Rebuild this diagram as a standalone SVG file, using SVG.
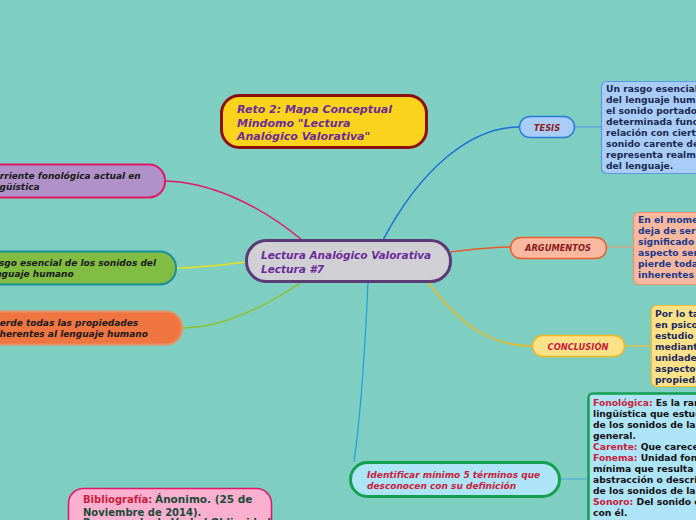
<svg xmlns="http://www.w3.org/2000/svg" width="696" height="520" viewBox="0 0 696 520">
<style>
text{font-family:"DejaVu Sans","Verdana",sans-serif;font-weight:bold}
.it{font-style:italic}
.c{fill:none}
.lbl{font-size:8.3px;font-style:italic;text-anchor:middle}
.box{font-size:9.2px}
</style>
<rect width="696" height="520" fill="#7ecec1"/>
<g id="connectors" class="c">
<path d="M383,240 C420,170 470,127 519,127" stroke="#1a6ed8" stroke-width="1.5"/>
<path d="M574,127 H601" stroke="#5a9ae0" stroke-width="1.2"/>
<path d="M451,252 C475,249 490,247 510,247" stroke="#e85a2a" stroke-width="1.5"/>
<path d="M606,247 H633" stroke="#e0a080" stroke-width="1.2"/>
<path d="M428,282 C460,325 490,346 532,346" stroke="#f0b820" stroke-width="1.5"/>
<path d="M625,346 H651" stroke="#f0c030" stroke-width="1.2"/>
<path d="M368,282 C365,350 360,420 354,462" stroke="#1aa0e0" stroke-width="1.2"/>
<path d="M560,479 H588" stroke="#4ab0d8" stroke-width="1.2"/>
<path d="M302,240 C260,205 210,182 165,181" stroke="#e0186a" stroke-width="1.5"/>
<path d="M246,262 C220,265 200,268 176,268" stroke="#e8e020" stroke-width="1.5"/>
<path d="M302,282 C260,310 220,328 182,328" stroke="#90c020" stroke-width="1.5"/>
</g>
<g id="title">
<rect x="221.5" y="95.5" width="205" height="52" rx="18" fill="#f9d31c" stroke="#8c0f0f" stroke-width="3"/>
<text class="it" font-size="11" fill="#6b2a9a"><tspan x="237" y="113">Reto 2: Mapa Conceptual</tspan><tspan x="237" y="127">Mindomo "Lectura</tspan><tspan x="237" y="140">Analógico Valorativa"</tspan></text>
</g>
<g id="central">
<rect x="246.5" y="240.5" width="204" height="41" rx="20" fill="#d0d0d4" stroke="#5b3a78" stroke-width="3"/>
<text class="it" font-size="10.5" fill="#6b2a9a"><tspan x="261" y="259">Lectura Analógico Valorativa</tspan><tspan x="261" y="273">Lectura #7</tspan></text>
</g>
<g id="left1">
<rect x="-40" y="164.5" width="205" height="33" rx="16" fill="#b192c8" stroke="#e0186a" stroke-width="2"/>
<text class="it" font-size="9" fill="#1a1a1a"><tspan x="-13" y="179">Corriente fonológica actual en</tspan><tspan x="-13" y="190">lingüística</tspan></text>
</g>
<g id="left2">
<rect x="-40" y="251.5" width="216" height="33" rx="16" fill="#80bd42" stroke="#1a8fa0" stroke-width="2"/>
<text class="it" font-size="9" fill="#1a1a1a"><tspan x="-14" y="266">Rasgo esencial de los sonidos del</tspan><tspan x="-14" y="277">lenguaje humano</tspan></text>
</g>
<g id="left3">
<rect x="-40" y="311.5" width="222" height="33" rx="16" fill="#f07540" stroke="#e89060" stroke-width="2"/>
<text class="it" font-size="9" fill="#1a1a1a"><tspan x="-10" y="326">Pierde todas las propiedades</tspan><tspan x="-10" y="337">inherentes al lenguaje humano</tspan></text>
</g>
<g id="tesis">
<rect x="519.5" y="116.5" width="55" height="21" rx="10.5" fill="#a9cdf8" stroke="#2b7ed8" stroke-width="1.5"/>
<text class="lbl" x="547" y="131" fill="#8b1a1a">TESIS</text>
</g>
<g id="tesis-text">
<rect x="601.5" y="81.5" width="120" height="92" rx="5" fill="#a9cdf8" stroke="#5a9ae0" stroke-width="1.2"/>
<text class="box" fill="#1a2a50"><tspan x="606" y="92">Un rasgo esencial de</tspan><tspan x="606" y="103">del lenguaje humano</tspan><tspan x="606" y="114">el sonido portador de</tspan><tspan x="606" y="125">determinada función</tspan><tspan x="606" y="136">relación con ciertos</tspan><tspan x="606" y="147">sonido carente de</tspan><tspan x="606" y="158">representa realmente</tspan><tspan x="606" y="169">del lenguaje.</tspan></text>
</g>
<g id="argumentos">
<rect x="510.5" y="237.5" width="96" height="21" rx="10.5" fill="#f9b8a0" stroke="#e8602a" stroke-width="1.5"/>
<text class="lbl" x="558" y="251" fill="#8b1a1a">ARGUMENTOS</text>
</g>
<g id="argumentos-text">
<rect x="633.5" y="212.5" width="100" height="72" rx="5" fill="#f9b8a0" stroke="#e89070" stroke-width="1.2"/>
<text class="box" fill="#1a3a8a"><tspan x="638" y="223">En el momento</tspan><tspan x="638" y="234">deja de ser un</tspan><tspan x="638" y="245">significado y</tspan><tspan x="638" y="256">aspecto semántico</tspan><tspan x="638" y="267">pierde todas</tspan><tspan x="638" y="278">inherentes al</tspan></text>
</g>
<g id="conclusion">
<rect x="532.5" y="335.5" width="92" height="21" rx="10.5" fill="#fde28a" stroke="#f0b820" stroke-width="1.5"/>
<text class="lbl" x="578" y="350" fill="#c8203a">CONCLUSIÓN</text>
</g>
<g id="conclusion-text">
<rect x="651.5" y="305.5" width="80" height="81" rx="5" fill="#fde28a" stroke="#f0c030" stroke-width="1.2"/>
<text class="box" fill="#1a2a60"><tspan x="655" y="317">Por lo tanto</tspan><tspan x="655" y="328">en psicología</tspan><tspan x="655" y="339">estudio</tspan><tspan x="655" y="350">mediante</tspan><tspan x="655" y="361">unidades</tspan><tspan x="655" y="372">aspecto</tspan><tspan x="655" y="383">propiedades</tspan></text>
</g>
<g id="identificar">
<rect x="350.5" y="462.5" width="209" height="34" rx="17" fill="#aee4f8" stroke="#15a050" stroke-width="3"/>
<text class="it" font-size="9" fill="#c8203a"><tspan x="367" y="478">Identificar mínimo 5 términos que</tspan><tspan x="367" y="489">desconocen con su definición</tspan></text>
</g>
<g id="definiciones">
<rect x="588.5" y="393.5" width="130" height="140" rx="4" fill="#aee4f8" stroke="#15a050" stroke-width="2.5"/>
<text class="box" fill="#111"><tspan x="593" y="406"><tspan fill="#c8203a">Fonológica:</tspan> Es la rama de la</tspan><tspan x="593" y="417">lingüística que estudia</tspan><tspan x="593" y="428">de los sonidos de la lengua</tspan><tspan x="593" y="439">general.</tspan><tspan x="593" y="450"><tspan fill="#c8203a">Carente:</tspan> Que carece de</tspan><tspan x="593" y="461"><tspan fill="#c8203a">Fonema:</tspan> Unidad fonológica</tspan><tspan x="593" y="472">mínima que resulta de</tspan><tspan x="593" y="483">abstracción o descripción</tspan><tspan x="593" y="494">de los sonidos de la lengua</tspan><tspan x="593" y="505"><tspan fill="#c8203a">Sonoro:</tspan> Del sonido o relacionado</tspan><tspan x="593" y="516">con él.</tspan></text>
</g>
<g id="bibliografia">
<rect x="68.5" y="488.5" width="203" height="50" rx="15" fill="#fbb0d0" stroke="#e0186a" stroke-width="1.5"/>
<text font-size="10" fill="#1a4a3a"><tspan x="83" y="503" fill="#c8203a">Bibliografía:</tspan><tspan x="155" y="503" font-size="10.5">Ánonimo. (25 de</tspan><tspan x="83" y="516">Noviembre de 2014).</tspan><tspan x="83" y="526">Recuperado de Verbal Oblicuidad</tspan></text>
</g>
</svg>
